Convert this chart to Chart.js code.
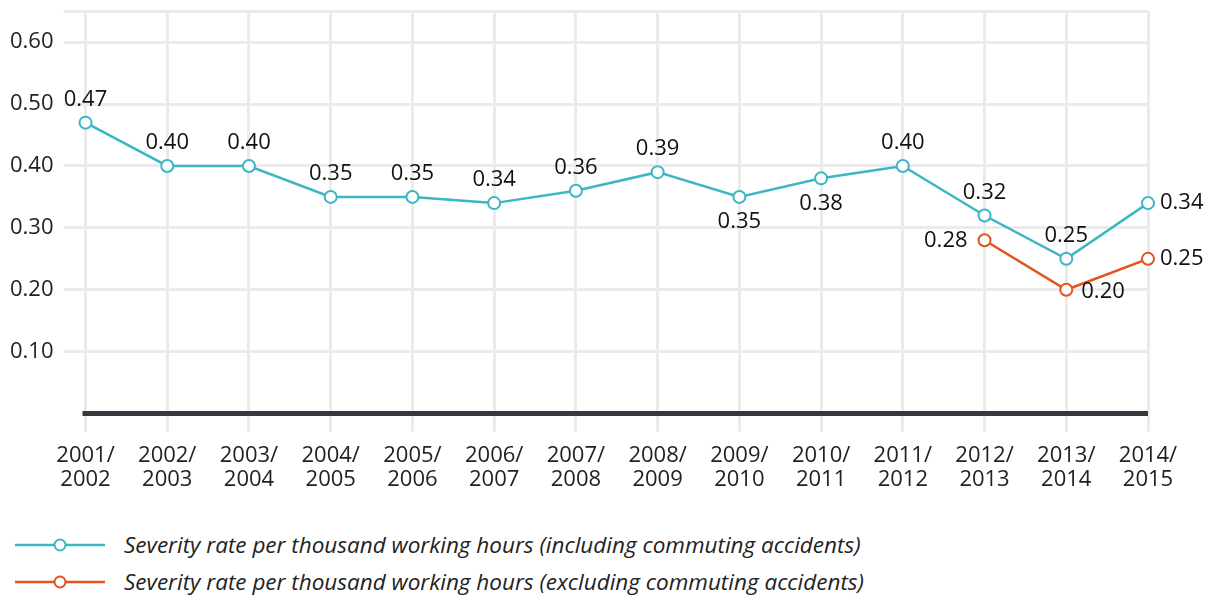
<!DOCTYPE html>
<html>
<head>
<meta charset="utf-8">
<script src="https://cdn.jsdelivr.net/npm/chart.js@4.4.0/dist/chart.umd.min.js"></script>
<style>
  body { margin: 0; background: #fff; font-family: "Open Sans", sans-serif; }
  #wrap { position: relative; width: 1214px; height: 526px; margin-top: -12px; }
  #legend { position: absolute; left: 15px; top: 526px; }
  .item { display: flex; align-items: center; height: 37px; font-style: italic; font-size: 22.5px; color: #222; }
  .item svg { margin-right: 19px; }
</style>
</head>
<body>
<div id="wrap"><canvas id="myChart"></canvas></div>
<div id="legend"></div>
<script>
// data
const years = [
  ['2001/', '2002'], ['2002/', '2003'], ['2003/', '2004'], ['2004/', '2005'],
  ['2005/', '2006'], ['2006/', '2007'], ['2007/', '2008'], ['2008/', '2009'],
  ['2009/', '2010'], ['2010/', '2011'], ['2011/', '2012'], ['2012/', '2013'],
  ['2013/', '2014'], ['2014/', '2015']
];
const including = [0.47, 0.40, 0.40, 0.35, 0.35, 0.34, 0.36, 0.39, 0.35, 0.38, 0.40, 0.32, 0.25, 0.34];
const excluding = [null, null, null, null, null, null, null, null, null, null, null, 0.28, 0.20, 0.25];
const yTicks = [0, 0.1, 0.2, 0.3, 0.4, 0.5, 0.6, 0.65];

// where each value label goes
const labelPos = [
  ['top', 'top', 'top', 'top', 'top', 'top', 'top', 'top', 'bottom', 'bottom', 'top', 'top', 'top', 'right'],
  [null, null, null, null, null, null, null, null, null, null, null, 'left', 'rightdown', 'right']
];

const teal = '#3cb6c3';
const orange = '#e2531d';
const fontName = 'Open Sans';

// zero line drawn under the lines
const zeroLine = {
  id: 'zeroLine',
  beforeDatasetsDraw(chart) {
    const ctx = chart.ctx;
    const y = chart.scales.y.getPixelForValue(0);
    ctx.save();
    ctx.strokeStyle = '#343a40';
    ctx.lineWidth = 5;
    ctx.beginPath();
    ctx.moveTo(chart.chartArea.left - 3, y);
    ctx.lineTo(chart.chartArea.right, y);
    ctx.stroke();
    ctx.restore();
  }
};

// value labels next to the points
const valueLabels = {
  id: 'valueLabels',
  afterDatasetsDraw(chart) {
    const ctx = chart.ctx;
    ctx.save();
    ctx.font = '22px "' + fontName + '"';
    ctx.fillStyle = '#111';
    chart.data.datasets.forEach((ds, i) => {
      const meta = chart.getDatasetMeta(i);
      meta.data.forEach((pt, j) => {
        const v = ds.data[j];
        if (v == null) return;
        const txt = v.toFixed(2);
        let x = pt.x, y = pt.y;
        const pos = labelPos[i][j];
        ctx.textBaseline = 'middle';
        if (pos === 'top') { ctx.textAlign = 'center'; y -= 23; }
        else if (pos === 'bottom') { ctx.textAlign = 'center'; y += 25; }
        else if (pos === 'right') { ctx.textAlign = 'left'; x += 12; }
        else if (pos === 'left') { ctx.textAlign = 'right'; x -= 17; }
        else if (pos === 'rightdown') { ctx.textAlign = 'left'; x += 15; y += 2; }
        ctx.fillText(txt, x, y);
      });
    });
    ctx.restore();
  }
};

const ctx = document.getElementById('myChart').getContext('2d');
const chart = new Chart(ctx, {
  type: 'line',
  data: {
    labels: years,
    datasets: [{
      label: 'Severity rate per thousand working hours (including commuting accidents)',
      data: including,
      borderColor: teal,
      borderWidth: 2.5,
      pointRadius: 6,
      pointHoverRadius: 6,
      pointBorderWidth: 2,
      pointBackgroundColor: '#fff',
      pointBorderColor: teal
    }, {
      label: 'Severity rate per thousand working hours (excluding commuting accidents)',
      data: excluding,
      borderColor: orange,
      borderWidth: 2.5,
      pointRadius: 6,
      pointHoverRadius: 6,
      pointBorderWidth: 2,
      pointBackgroundColor: '#fff',
      pointBorderColor: orange
    }]
  },
  options: {
    responsive: true,
    maintainAspectRatio: false,
    animation: false,
    layout: { padding: { left: 0, right: 66, top: 0, bottom: 10 } },
    plugins: {
      legend: { display: false },
      tooltip: { enabled: false }
    },
    scales: {
      x: {
        offset: false,
        border: { display: false },
        grid: { color: '#ebebeb', lineWidth: 3, tickLength: 18 },
        ticks: {
          color: '#222',
          font: { family: fontName, size: 22, lineHeight: 1.1 },
          padding: 12,
          maxRotation: 0,
          autoSkip: false
        }
      },
      y: {
        min: 0,
        max: 0.65,
        border: { display: false },
        afterBuildTicks: scale => { scale.ticks = yTicks.map(v => ({ value: v })); },
        grid: {
          color: c => c.tick.value === 0 ? 'rgba(0,0,0,0)' : '#ebebeb',
          lineWidth: 3,
          tickLength: 22
        },
        ticks: {
          color: '#222',
          font: { family: fontName, size: 22 },
          padding: 10,
          callback: v => (v === 0 || v === 0.65) ? '' : v.toFixed(2)
        }
      }
    }
  },
  plugins: [zeroLine, valueLabels]
});

// legend
const legend = document.getElementById('legend');
chart.data.datasets.forEach(ds => {
  const row = document.createElement('div');
  row.className = 'item';
  row.innerHTML = '<svg width="90" height="14"><line x1="0" y1="7" x2="90" y2="7" stroke="' + ds.borderColor +
    '" stroke-width="2.5"/><circle cx="45" cy="7" r="5.5" fill="#fff" stroke="' + ds.borderColor +
    '" stroke-width="2"/></svg><span>' + ds.label + '</span>';
  legend.appendChild(row);
});
</script>
</body>
</html>
